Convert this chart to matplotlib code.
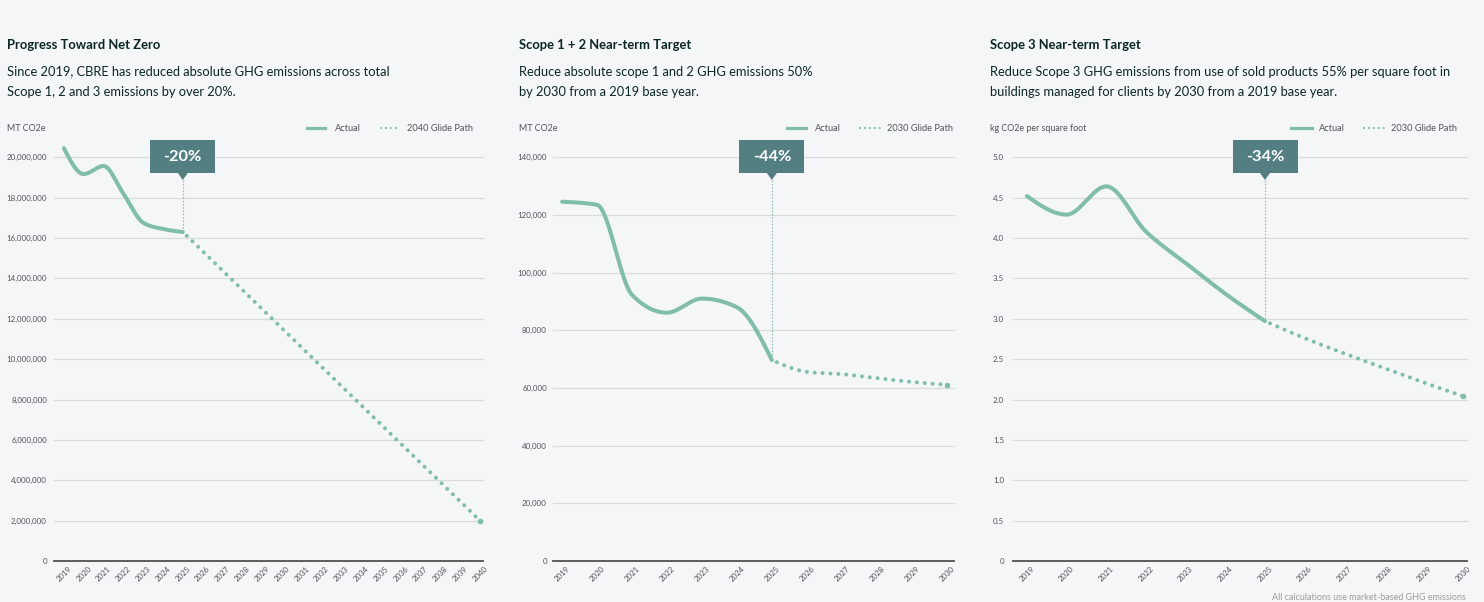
import numpy as np
import matplotlib.pyplot as plt
from matplotlib.lines import Line2D
from matplotlib.patches import Rectangle, Polygon

W, H = 1484, 602

YEARS_ACTUAL = [2019, 2020, 2021, 2022, 2023, 2024, 2025]

# Progress toward net zero (MT CO2e)
NZ_ACTUAL = [20.45e6, 19.17e6, 19.57e6, 18.2e6, 16.76e6, 16.45e6, 16.3e6]
NZ_GLIDE_YEARS = [2025, 2040]
NZ_GLIDE = [16.3e6, 2.0e6]
NZ_YEARS_AXIS = list(range(2019, 2041))
NZ_TICKS = [0, 2e6, 4e6, 6e6, 8e6, 10e6, 12e6, 14e6, 16e6, 18e6, 20e6]

# Scope 1 + 2 (MT CO2e)
S12_ACTUAL = [124600, 123500, 92300, 86100, 91000, 88000, 69700]
S12_GLIDE_YEARS = [2025, 2026, 2027, 2028, 2029, 2030]
S12_GLIDE = [69700, 65600, 64800, 63400, 62100, 61100]
S12_TICKS = [0, 20000, 40000, 60000, 80000, 100000, 120000, 140000]

# Scope 3 (kg CO2e per square foot)
S3_ACTUAL = [4.52, 4.29, 4.64, 4.08, 3.69, 3.31, 2.97]
S3_GLIDE_YEARS = [2025, 2026, 2027, 2028, 2029, 2030]
S3_GLIDE = [2.97, 2.76, 2.57, 2.39, 2.21, 2.04]
S3_TICKS = [0, 0.5, 1.0, 1.5, 2.0, 2.5, 3.0, 3.5, 4.0, 4.5, 5.0]
NEAR_YEARS_AXIS = list(range(2019, 2031))

BG = "#f5f6f8"
INK = "#0c2723"
TICK = "#4f5456"
MINT = "#80bdaa"
CALLOUT = "#547f82"
GRID = "#dadcdc"

plt.rcParams["font.family"] = ["Lato", "DejaVu Sans"]


def fx(px):
    return px / W


def fy(py):
    return 1 - py / H


def monotone(x, y, n=40):
    # monotone cubic (d3 curveMonotoneX style) for drawing the smooth lines
    x = np.asarray(x, float)
    y = np.asarray(y, float)
    h = np.diff(x)
    d = np.diff(y) / h
    m = np.zeros_like(y)
    for i in range(1, len(y) - 1):
        if d[i - 1] * d[i] <= 0:
            m[i] = 0
        else:
            p = (d[i - 1] * h[i] + d[i] * h[i - 1]) / (h[i - 1] + h[i])
            m[i] = (np.sign(d[i - 1]) + np.sign(d[i])) * min(abs(d[i - 1]), abs(d[i]), 0.5 * abs(p))
    if len(y) > 2:
        m[0] = (3 * d[0] - m[1]) / 2
        m[-1] = (3 * d[-1] - m[-2]) / 2
    else:
        m[:] = d[0]
    xs, ys = [], []
    for i in range(len(h)):
        t = np.linspace(0, 1, n)
        h00 = 2 * t**3 - 3 * t**2 + 1
        h10 = t**3 - 2 * t**2 + t
        h01 = -2 * t**3 + 3 * t**2
        h11 = t**3 - t**2
        xs.append(x[i] + t * h[i])
        ys.append(h00 * y[i] + h10 * h[i] * m[i] + h01 * y[i + 1] + h11 * h[i] * m[i + 1])
    return np.concatenate(xs), np.concatenate(ys)


PANELS = [
    dict(left=54, right=483, xlim=(2018.5, 2040.15), years=NZ_YEARS_AXIS,
         actual=NZ_ACTUAL, gy=NZ_GLIDE_YEARS, gv=NZ_GLIDE, ticks=NZ_TICKS,
         fmt=lambda v: "0" if v == 0 else f"{int(v):,}", pad=7,
         tx=7, title="Progress Toward Net Zero",
         sub="Since 2019, CBRE has reduced absolute GHG emissions across total\nScope 1, 2 and 3 emissions by over 20%.",
         unit="MT CO2e", leg=(307, 325, 335, 381, 400, 407), glide="2040 Glide Path", pct="-20%"),
    dict(left=553, right=954, xlim=(2018.74, 2030.21), years=NEAR_YEARS_AXIS,
         actual=S12_ACTUAL, gy=S12_GLIDE_YEARS, gv=S12_GLIDE, ticks=S12_TICKS,
         fmt=lambda v: "0" if v == 0 else f"{int(v):,}", pad=6,
         tx=519, title="Scope 1 + 2 Near-term Target",
         sub="Reduce absolute scope 1 and 2 GHG emissions 50%\nby 2030 from a 2019 base year.",
         unit="MT CO2e", leg=(787, 806, 815, 860, 880, 887), glide="2030 Glide Path", pct="-44%"),
    dict(left=1013, right=1467, xlim=(2018.65, 2030.09), years=NEAR_YEARS_AXIS,
         actual=S3_ACTUAL, gy=S3_GLIDE_YEARS, gv=S3_GLIDE, ticks=S3_TICKS,
         fmt=lambda v: "0" if v == 0 else f"{v:.1f}", pad=9,
         tx=990, title="Scope 3 Near-term Target",
         sub="Reduce Scope 3 GHG emissions from use of sold products 55% per square foot in\nbuildings managed for clients by 2030 from a 2019 base year.",
         unit="kg CO2e per square foot", leg=(1291, 1312, 1319, 1364, 1384, 1391), glide="2030 Glide Path", pct="-34%"),
]

fig = plt.figure(figsize=(W / 100, H / 100), dpi=100, facecolor=BG)

TOP, BOTTOM = 157.3, 561

for p in PANELS:
    ax = fig.add_axes([fx(p["left"]), fy(BOTTOM), fx(p["right"] - p["left"]), (BOTTOM - TOP) / H])
    ax.set_facecolor(BG)
    ax.set_xlim(*p["xlim"])
    ax.set_ylim(0, p["ticks"][-1])
    for s in ["top", "right", "left"]:
        ax.spines[s].set_visible(False)
    ax.spines["bottom"].set_color("#4d5152")
    ax.spines["bottom"].set_linewidth(1.3)
    for v in p["ticks"][1:]:
        ax.axhline(v, color=GRID, lw=0.9, zorder=0, clip_on=False)
    ax.set_yticks(p["ticks"])
    ax.set_yticklabels([p["fmt"](v) for v in p["ticks"]])
    ax.set_xticks(p["years"])
    ax.set_xticklabels([str(y) for y in p["years"]], rotation=45, ha="center", va="top")
    ax.tick_params(axis="y", length=0, pad=p["pad"] * 0.72, labelsize=5.7, labelcolor=TICK)
    ax.tick_params(axis="x", length=0, pad=3, labelsize=5.6, labelcolor=TICK)

    xs, ys = monotone(YEARS_ACTUAL, p["actual"])
    ax.plot(xs, ys, color=MINT, lw=2.9, solid_capstyle="round", clip_on=False, zorder=3)
    gx, gyv = monotone(p["gy"], p["gv"])
    ax.plot(gx, gyv, color=MINT, lw=2.9, ls=(0.6, (0.01, 1.95)), dash_capstyle="round",
            clip_on=False, zorder=3)
    ax.plot(p["gy"][-1:], p["gv"][-1:], "o", color=MINT, ms=4, mew=0, clip_on=False, zorder=3)

    # callout
    x_end, y_end = YEARS_ACTUAL[-1], p["actual"][-1]
    dx, dy = ax.transData.transform((x_end, y_end))
    cx = dx
    cy_pt = H - dy
    fig.add_artist(Line2D([fx(cx), fx(cx)], [fy(180), fy(cy_pt - 3)], color="#93b9b3",
                          lw=0.8, ls=(0, (1.5, 1.5))))
    fig.add_artist(Rectangle((fx(cx - 32.5), fy(173.3)), fx(65), (173.3 - 140) / H,
                             facecolor=CALLOUT, edgecolor="none"))
    fig.add_artist(Polygon([(fx(cx - 5), fy(173)), (fx(cx + 5), fy(173)), (fx(cx), fy(180))],
                           closed=True, facecolor=CALLOUT, edgecolor="none"))
    fig.text(fx(cx), fy(157), p["pct"], color="white", fontsize=11.8, fontweight="bold",
             ha="center", va="center")

    # titles
    fig.text(fx(p["tx"]), fy(45), p["title"], color=INK, fontsize=9.4, fontweight="bold",
             ha="left", va="center")
    fig.text(fx(p["tx"]), fy(65.5), p["sub"], color=INK, fontsize=9.3, ha="left", va="top",
             linespacing=1.82)
    fig.text(fx(p["tx"]), fy(128), p["unit"], color=TICK, fontsize=6.4, ha="left", va="center")

    # legend
    s1, s2, st, d1, d2, dt = p["leg"]
    fig.add_artist(Line2D([fx(s1), fx(s2)], [fy(128), fy(128)], color=MINT, lw=2.3))
    fig.text(fx(st), fy(128), "Actual", color=TICK, fontsize=6.7, ha="left", va="center")
    fig.add_artist(Line2D([fx(d1), fx(d2)], [fy(128), fy(128)], color=MINT, lw=1.6,
                          ls=(0, (0.01, 2.2)), dash_capstyle="round"))
    fig.text(fx(dt), fy(128), p["glide"], color=TICK, fontsize=6.7, ha="left", va="center")

fig.text(fx(1466), fy(601.5), "All calculations use market-based GHG emissions", color="#9a9d9e",
         fontsize=6.5, ha="right", va="bottom")

fig.savefig("out.png", dpi=100, facecolor=BG)
